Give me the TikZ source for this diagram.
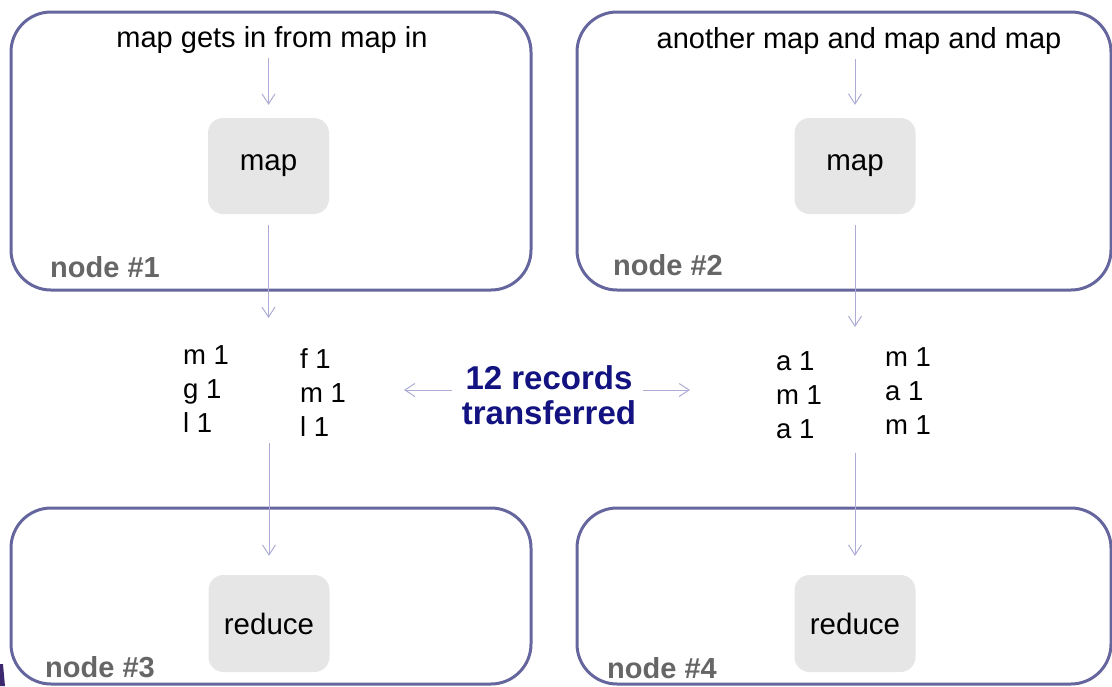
\documentclass[tikz,border=0pt]{standalone}
\usepackage{fontspec}
\setmainfont{Liberation Sans}
\usetikzlibrary{arrows.meta}
\definecolor{frame}{RGB}{102,102,158}
\definecolor{boxfill}{RGB}{230,230,230}
\definecolor{flowcol}{RGB}{172,172,214}
\definecolor{labelgray}{RGB}{102,102,102}
\definecolor{navytext}{RGB}{18,18,128}
\definecolor{edgemark}{RGB}{60,40,110}

\begin{document}
\begin{tikzpicture}[x=1pt,y=-1pt,
  machine/.style={draw=frame, line width=3pt, rounded corners=40pt, inner sep=0pt},
  task/.style={fill=boxfill, rounded corners=15pt, minimum width=121pt, minimum height=96pt,
    inner sep=0pt, font=\fontsize{29.5}{34}\selectfont},
  caption/.style={inner sep=0pt, anchor=base, font=\fontsize{29}{34}\selectfont},
  hostname/.style={inner sep=0pt, anchor=base west, text=labelgray,
    font=\fontsize{29}{34}\selectfont\bfseries},
  records/.style={inner sep=0pt, anchor=north west, align=left,
    font=\fontsize{27.5}{34}\selectfont},
  flow/.style={draw=flowcol, line width=1pt, -{Straight Barb[length=10pt,width=13pt]}},
]
\useasboundingbox (0,0) rectangle (1112,686);

% machines
\node[machine, minimum width=520pt, minimum height=278pt] (host1) at (271,151) {};
\node[machine, minimum width=534pt, minimum height=278pt] (host2) at (844,151) {};
\node[machine, minimum width=520pt, minimum height=176pt] (host3) at (271,596) {};
\node[machine, minimum width=534pt, minimum height=176pt] (host4) at (844,596) {};

\node[hostname] (name1) at (50,277) {node \#1};
\node[hostname] (name2) at (613,275) {node \#2};
\node[hostname] (name3) at (45,677) {node \#3};
\node[hostname] (name4) at (607,678) {node \#4};

% inputs
\node[caption] (in1) at (272,47) {map gets in from map in};
\node[caption] (in2) at (859,48) {another map and map and map};

% tasks
\node[task] (map1) at (268.5,166) {map};
\node[task] (map2) at (855,166) {map};
\node[task, minimum height=97pt] (red1) at (269,623.5) {reduce};
\node[task, minimum height=97pt] (red2) at (855,623.5) {reduce};

% intermediate records
\node[records] (rec1a) at (183,345.5) {m 1\\g 1\\l 1};
\node[records] (rec1b) at (300,348.5) {f 1\\m 1\\l 1};
\node[records] (rec2a) at (776,351) {a 1\\m 1\\a 1};
\node[records] (rec2b) at (885,347) {m 1\\a 1\\m 1};

\node[inner sep=0pt, anchor=north, align=center, text=navytext,
  font=\fontsize{33}{35}\selectfont\bfseries] (moved) at (549,365) {12 records\\transferred};

% data flow
\coordinate (lt) at (404,390);
\coordinate (rt) at (690,390);
\coordinate (d1) at (268.5,318);
\coordinate (d2) at (855,327);

\draw[flow, shorten <=5pt, shorten >=13pt] (map1.north |- in1.south) -- (map1.north);
\draw[flow, shorten <=5pt, shorten >=13pt] (map2.north |- in2.south) -- (map2.north);
\draw[flow, shorten <=11pt] (map1.south) -- (d1);
\draw[flow, shorten <=11pt] (map2.south) -- (d2);
\draw[flow, shorten <=10pt, shorten >=19pt] (red1.north |- rec1a.south) -- (red1.north);
\draw[flow, shorten <=14pt, shorten >=19pt] (red2.north |- rec2a.south) -- (red2.north);
\draw[flow, shorten <=10pt] (moved.west |- lt) -- (lt);
\draw[flow, shorten <=7pt] (moved.east |- rt) -- (rt);

% corner sliver
\fill[edgemark] (0,664) -- (3,664) -- (5,686) -- (0,686) -- cycle;
\end{tikzpicture}
\end{document}
